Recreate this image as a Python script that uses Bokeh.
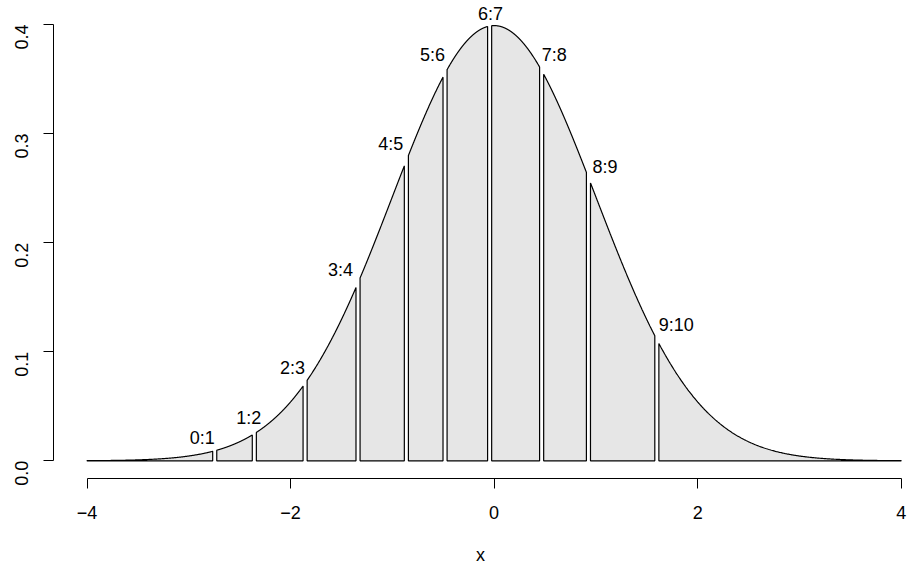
import math
import numpy as np
from bokeh.plotting import figure
from bokeh.models import ColumnDataSource, Range1d, FixedTicker
from bokeh.core.properties import value
from bokeh.embed import file_html
from bokeh.resources import INLINE

# ---- data ----
x_limits = [-4, 4]
boundaries = [-2.745, -2.356, -1.857, -1.337, -0.862, -0.482, -0.044, 0.467, 0.927, 1.599]
labels = ["0:1", "1:2", "2:3", "3:4", "4:5", "5:6", "6:7", "7:8", "8:9", "9:10"]
xtick_values = [-4, -2, 0, 2, 4]
xtick_labels = ["\u22124", "\u22122", "0", "2", "4"]
ytick_values = [0.0, 0.1, 0.2, 0.3, 0.4]
ytick_labels = ["0.0", "0.1", "0.2", "0.3", "0.4"]

# ---- style (label placement nudges in pixels) ----
label_align = ["right"] * 6 + ["center"] + ["left"] * 3
label_dx = [0, 7, 0, -5, -3, 0, 1, 0, 4, 2]
label_dy = [13, 16, 15, 13, 17, 18, 12, 16, 11, 15]
gap = 0.02
FONT = "Liberation Sans"
FS = "18px"


def dnorm(x):
    return np.exp(-0.5 * np.asarray(x) ** 2) / math.sqrt(2 * math.pi)


p = figure(width=907, height=567, output_backend="svg", toolbar_location=None,
           title=None, x_range=Range1d(-4.3292, 4.0619),
           y_range=Range1d(-0.01619, 0.42195),
           min_border_left=53, min_border_right=0, min_border_top=0,
           min_border_bottom=88)
p.outline_line_color = None
p.grid.visible = False
p.background_fill_color = "white"
p.border_fill_color = "white"

# polygons
edges = [x_limits[0]] + boundaries + [x_limits[1]]
pxs, pys = [], []
n = len(edges) - 1
for i in range(n):
    a = edges[i] + (gap if i > 0 else 0.0)
    b = edges[i + 1] - (gap if i < n - 1 else 0.0)
    xs = np.linspace(a, b, 300)
    ys = dnorm(xs)
    pxs.append(list(xs) + [b, a])
    pys.append(list(ys) + [0.0, 0.0])
p.patches(pxs, pys, fill_color="#E6E6E6", line_color="black", line_width=1.2)

# labels
for al in ["right", "center", "left"]:
    idx = [i for i, a in enumerate(label_align) if a == al]
    src = ColumnDataSource(dict(
        x=[boundaries[i] for i in idx],
        y=[float(dnorm(boundaries[i])) for i in idx],
        t=[labels[i] for i in idx],
        dx=[label_dx[i] for i in idx],
        dy=[-label_dy[i] for i in idx],
    ))
    p.text(x="x", y="y", text="t", source=src, text_align=al,
           text_baseline="alphabetic", x_offset="dx", y_offset="dy",
           text_font=value(FONT), text_font_size=FS, text_color="black")

# axes
xa = p.xaxis[0]
xa.ticker = FixedTicker(ticks=xtick_values)
xa.major_label_overrides = {v: l for v, l in zip(xtick_values, xtick_labels)}
xa.bounds = (xtick_values[0], xtick_values[-1])
xa.axis_label = "x"
ya = p.yaxis[0]
ya.ticker = FixedTicker(ticks=ytick_values)
ya.major_label_overrides = {v: l for v, l in zip(ytick_values, ytick_labels)}
ya.bounds = (ytick_values[0], ytick_values[-1])
ya.major_label_orientation = math.pi / 2

for ax in (xa, ya):
    ax.minor_tick_line_color = None
    ax.major_tick_out = 10
    ax.major_tick_in = 0
    ax.axis_line_color = "black"
    ax.major_tick_line_color = "black"
    ax.axis_line_width = 1
    ax.major_tick_line_width = 1
    ax.major_label_text_font = FONT
    ax.major_label_text_font_size = FS
    ax.major_label_text_color = "black"
    ax.axis_label_text_font = FONT
    ax.axis_label_text_font_size = FS
    ax.axis_label_text_font_style = "normal"
    ax.axis_label_text_color = "black"
xa.major_label_standoff = 17
xa.axis_label_standoff = 23
ya.major_label_standoff = 22

open("out.html", "w").write(file_html(p, INLINE))
